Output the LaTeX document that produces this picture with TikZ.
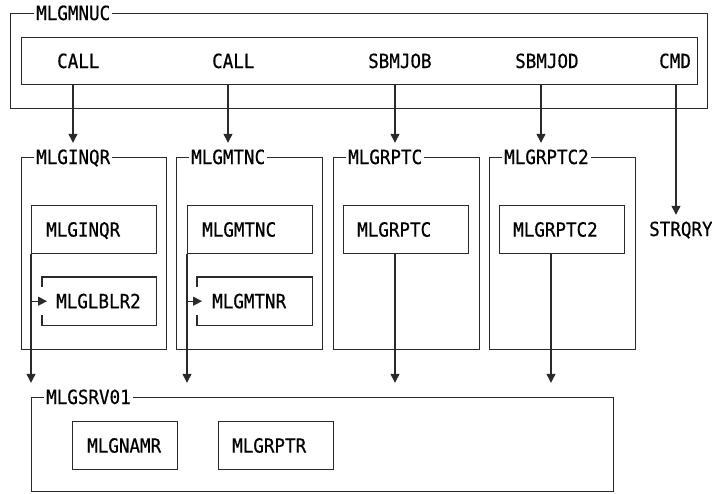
\documentclass[tikz,border=0pt]{standalone}
\usepackage{fontspec}
\setmonofont[FakeStretch=0.9, FakeBold=0.6]{DejaVu Sans Mono}
\usetikzlibrary{arrows.meta}
\definecolor{ink}{HTML}{2A2A2A}

\tikzset{
  txt/.style={font=\ttfamily\fontsize{19.5}{20}\selectfont, text height=14pt, text depth=0pt, inner sep=0pt, anchor=west},
  grp/.style={draw=ink, line width=1.2pt, anchor=north west, inner sep=0pt},
  mod/.style={draw=ink, line width=1.2pt, anchor=north west, inner sep=0pt, minimum height=48pt},
  ttl/.style={txt, fill=white, inner xsep=2pt},
  link/.style={draw=ink, line width=1.2pt},
  arr/.style={link, -{Triangle[length=9pt,width=9pt]}},
}

\begin{document}
\begin{tikzpicture}[x=1pt, y=-1pt]
\useasboundingbox (0,0) rectangle (712,493);

% ---- MLGMNUC with its command bar ----
\node[grp, minimum width=697pt, minimum height=95pt] (mnuc) at (10,13) {};
\node[ttl] (mnuct) at (34,13) {MLGMNUC};
\node[grp, minimum width=676pt, minimum height=47pt] (bar) at (21,37) {};
\node[txt] (call1) at (57,61) {CALL};
\node[txt] (call2) at (212,61) {CALL};
\node[txt] (sbmjob) at (368,61) {SBMJOB};
\node[txt] (sbmjod) at (515,61) {SBMJOD};
\node[txt] (cmd) at (659,61) {CMD};

% drop points under the bar
\coordinate (d1) at (73,84);
\coordinate (d2) at (228,84);
\coordinate (d3) at (395,84);
\coordinate (d4) at (541,84);
\coordinate (d5) at (676,84);
% drop point under MLGRPTC2
\coordinate (d6) at (551,253);

% ---- called programs ----
\node[grp, minimum width=145pt, minimum height=192pt] (inqr) at (21,157) {};
\node[ttl] (inqrt) at (34,157) {MLGINQR};
\node[mod, minimum width=125pt] (inqrm) at (31,205) {};
\node[txt] (inqrl) at ([xshift=15pt]inqrm.west) {MLGINQR};
\node[minimum width=114pt, minimum height=48pt, anchor=north west, inner sep=0pt] (lblr) at (42,277) {};
\node[txt] (lblrl) at ([xshift=14pt]lblr.west) {MLGLBLR2};

\node[grp, minimum width=146pt, minimum height=192pt] (mtnc) at (176,157) {};
\node[ttl] (mtnct) at (189,157) {MLGMTNC};
\node[mod, minimum width=125pt] (mtncm) at (187,205) {};
\node[txt] (mtncl) at ([xshift=15pt]mtncm.west) {MLGMTNC};
\node[minimum width=115pt, minimum height=48pt, anchor=north west, inner sep=0pt] (mtnr) at (197,277) {};
\node[txt] (mtnrl) at ([xshift=15pt]mtnr.west) {MLGMTNR};

\node[grp, minimum width=146pt, minimum height=192pt] (rptc) at (333,157) {};
\node[ttl] (rptct) at (346,157) {MLGRPTC};
\node[mod, minimum width=125pt] (rptcm) at (343,205) {};
\node[txt] (rptcl) at ([xshift=14pt]rptcm.west) {MLGRPTC};

\node[grp, minimum width=146pt, minimum height=192pt] (rptd) at (489,157) {};
\node[ttl] (rptdt) at (502,157) {MLGRPTC2};
\node[mod, minimum width=125pt] (rptdm) at (499,205) {};
\node[txt] (rptdl) at ([xshift=14pt]rptdm.west) {MLGRPTC2};

\node[txt] (strqry) at (649,229) {STRQRY};

% ---- MLGSRV01 ----
\node[grp, minimum width=582pt, minimum height=94pt] (srv) at (31,397) {};
\node[ttl] (srvt) at (44,397) {MLGSRV01};
\node[mod, minimum width=105pt] (namr) at (72,421) {};
\node[txt] (namrl) at ([xshift=15pt]namr.west) {MLGNAMR};
\node[mod, minimum width=115pt] (rptr) at (218,421) {};
\node[txt] (rptrl) at ([xshift=14pt]rptr.west) {MLGRPTR};

% bracket-style boxes, open where the call enters
\draw[link] ([yshift=-10pt]lblr.north west) |- (lblr.north east) |- (lblr.south west) -- ++(0,10pt);
\draw[link] ([yshift=-10pt]mtnr.north west) |- (mtnr.north east) |- (mtnr.south west) -- ++(0,10pt);

% ---- calls from the command bar ----
\draw[arr, shorten >=7pt] (d1) -- (d1 |- inqrt.north);
\draw[arr, shorten >=7pt] (d2) -- (d2 |- mtnct.north);
\draw[arr, shorten >=7pt] (d3) -- (d3 |- rptct.north);
\draw[arr, shorten >=7pt] (d4) -- (d4 |- rptdt.north);
\draw[arr, shorten >=7pt] (d5) -- (d5 |- strqry.north);

% ---- calls into MLGSRV01 ----
\draw[arr, shorten >=7pt] (inqrm.south west) -- (inqrm.south west |- srvt.north);
\draw[arr, shorten >=7pt] (mtncm.south west) -- (mtncm.south west |- srvt.north);
\draw[arr, shorten >=7pt] (rptcm.south -| d3) -- (d3 |- srvt.north);
\draw[arr, shorten >=7pt] (d6) -- (d6 |- srvt.north);

% ---- branches into the open boxes ----
\draw[arr] (inqrm.south west |- lblr.west) -- ([xshift=5pt]lblr.west);
\draw[arr] (mtncm.south west |- mtnr.west) -- ([xshift=5pt]mtnr.west);
\end{tikzpicture}
\end{document}
